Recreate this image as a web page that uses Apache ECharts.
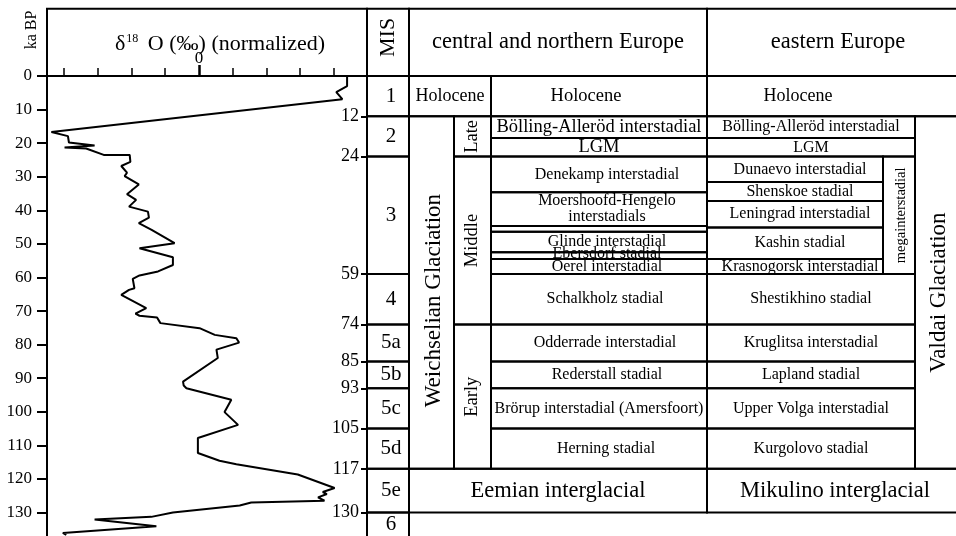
<!DOCTYPE html>
<html>
<head>
<meta charset="utf-8">
<script src="https://cdn.jsdelivr.net/npm/echarts@6/dist/echarts.min.js"></script>
<style>
  html, body { margin: 0; padding: 0; background: #fff; }
  #chart { width: 956px; height: 536px; }
</style>
</head>
<body>
<div id="chart"></div>
<script>
const FONT = '"Liberation Serif", "Times New Roman", serif';
const AGE_MAX = 137;

// normalized δ18O record, listed down the core (value, age in ka BP)
const d18oValues = [
  4.39, 4.39, 4.07, 4.25, -4.37, -3.88, -3.85, -3.09, -3.98, -3.34,
  -2.82, -2.05, -2.03, -2.30, -2.13, -2.20, -1.78, -2.13, -1.86, -2.07,
  -1.51, -1.48, -1.78, -1.40, -0.72, -1.76, -0.77, -0.72, -0.77, -1.21,
  -1.76, -1.96, -1.91, -2.07, -2.30, -1.56, -1.88, -1.76, -1.24, -1.14,
  0.02, 0.47, 1.11, 1.19, 0.52, 0.56, -0.47, -0.45, -0.37, 0.96,
  0.76, 1.16, -0.03, -0.03, 0.61, 1.11, 2.93, 4.02, 3.67, 3.79,
  3.53, 3.72, 1.55, 1.21, -0.77, -1.41, -3.09, -1.26, -4.03, -3.93
];
const d18oAges = [
  0, 3.0, 4.8, 6.9, 16.7, 17.9, 19.8, 20.7, 21.3, 21.6,
  23.5, 23.5, 25.6, 26.8, 28.8, 29.8, 32.3, 35.2, 36.9, 38.9,
  40.4, 42.2, 43.8, 45.8, 49.8, 51.3, 54.0, 54.3, 56.3, 58.2,
  59.4, 60.4, 63.2, 63.7, 65.2, 69.1, 70.8, 71.4, 71.9, 73.6,
  75.1, 77.1, 78.1, 79.4, 81.5, 84.0, 91.0, 92.2, 93.0, 96.4,
  100.1, 103.9, 107.8, 112.3, 114.6, 115.6, 118.7, 122.7, 123.9, 124.5,
  125.5, 126.5, 127.0, 127.9, 130.0, 131.3, 132.1, 134.1, 136.1, 136.7
];
const d18oTicks = [-4, -3, -2, -1, 1, 2, 3, 4];

// marine isotope stages
const misLabels = ['1', '2', '3', '4', '5a', '5b', '5c', '5d', '5e', '6'];
const misBoundaries = [12, 24, 59, 74, 85, 93, 105, 117, 130];

// central and northern Europe: [name, from ka, to ka]
const weichselUnits = [
  ['Holocene', 0, 12],
  ['Weichselian Glaciation', 12, 117],
  ['Eemian interglacial', 117, 130]
];
const weichselParts = [
  ['Late', 12, 24],
  ['Middle', 24, 74],
  ['Early', 74, 117]
];
const centralStages = [
  ['Holocene', 0, 12],
  ['Bölling-Alleröd interstadial', 12, 18.5],
  ['LGM', 18.5, 24],
  ['Denekamp interstadial', 24, 34.6],
  ['Moershoofd-Hengelo\ninterstadials', 34.6, 44.7],
  ['', 44.7, 46.4],
  ['Glinde interstadial', 46.4, 52.5],
  ['Ebersdorf stadial', 52.5, 54.5],
  ['Oerel interstadial', 54.5, 59],
  ['Schalkholz stadial', 59, 74],
  ['Odderrade interstadial', 74, 85],
  ['Rederstall stadial', 85, 93],
  ['Brörup interstadial (Amersfoort)', 93, 105],
  ['Herning stadial', 105, 117]
];

// eastern Europe
const valdaiUnits = [
  ['Holocene', 0, 12],
  ['Valdai Glaciation', 12, 117],
  ['Mikulino interglacial', 117, 130]
];
const megainterstadial = ['megainterstadial', 24, 59];
const easternStages = [
  ['Bölling-Alleröd interstadial', 12, 18.5],
  ['LGM', 18.5, 24],
  ['Dunaevo interstadial', 24, 31.6],
  ['Shenskoe stadial', 31.6, 37.2],
  ['Leningrad interstadial', 37.2, 45.1],
  ['Kashin stadial', 45.1, 54.5],
  ['Krasnogorsk interstadial', 54.5, 59],
  ['Shestikhino stadial', 59, 74],
  ['Kruglitsa interstadial', 74, 85],
  ['Lapland stadial', 85, 93],
  ['Upper Volga interstadial', 93, 105],
  ['Kurgolovo stadial', 105, 117]
];
const headerLabels = ['MIS', 'central and northern Europe', 'eastern Europe'];

// ---- table layout: column extents along the table x axis (1 unit = 1 px) ----
const TABLE_WIDTH = 909;
const COL = {
  plot: [0, 320], mis: [320, 362], glac: [362, 407], sub: [407, 444],
  cen: [444, 660], glacSub: [362, 444], central: [362, 660],
  eastStage: [660, 868], eastNarrow: [660, 836], mega: [836, 868],
  valdai: [868, 930], east: [660, 930]
};
const HEADER_FROM = -20;   // header row sits above the 0 ka line
const TABLE_BOTTOM = 140;  // last MIS row runs off the bottom
// small text nudges (px) for a few cells
const TEXT_NUDGE = {
  'MIS': [0, -5],
  'Weichselian Glaciation': [2, 8],
  'Denekamp interstadial': [8, 0], 'Moershoofd-Hengelo\ninterstadials': [8, 0],
  'Glinde interstadial': [8, 0], 'Ebersdorf stadial': [8, -2], 'Oerel interstadial': [8, 0],
  'Schalkholz stadial': [6, 0], 'Odderrade interstadial': [6, 0],
  'Rederstall stadial': [8, 0], 'Herning stadial': [7, 0],
  'Holocene': [-13, 0]
};

const cells = [];
function addCell(col, from, to, text, fontSize, opts) {
  cells.push(Object.assign({ col, from, to, text, fontSize }, opts || {}));
}

// header row
addCell('plot', HEADER_FROM, 0, '', 0);
addCell('mis', HEADER_FROM, 0, headerLabels[0], 22, { rotate: true, nudge: true });
addCell('central', HEADER_FROM, 0, headerLabels[1], 22.5);
addCell('east', HEADER_FROM, 0, headerLabels[2], 22.5, { textDx: -4 });

// MIS column
const misTops = [0].concat(misBoundaries);
misLabels.forEach((lab, i) => {
  const to = i + 1 < misTops.length ? misTops[i + 1] : TABLE_BOTTOM;
  addCell('mis', misTops[i], to, lab, 21, { openBottom: i === misLabels.length - 1, textDx: 3 });
});

// central and northern Europe
addCell('glacSub', weichselUnits[0][1], weichselUnits[0][2], weichselUnits[0][0], 18);
addCell('glac', weichselUnits[1][1], weichselUnits[1][2], weichselUnits[1][0], 23, { rotate: true, nudge: true });
addCell('central', weichselUnits[2][1], weichselUnits[2][2], weichselUnits[2][0], 22.5);
weichselParts.forEach(p => addCell('sub', p[1], p[2], p[0], 18.5, { rotate: true }));
centralStages.forEach(s => addCell('cen', s[1], s[2], s[0], s[1] < 24 ? 18.5 : 16,
  { lineHeight: 16, nudge: true }));

// eastern Europe
addCell('east', valdaiUnits[0][1], valdaiUnits[0][2], valdaiUnits[0][0], 18, { textCol: 'eastStage', textDx: -13 });
addCell('valdai', valdaiUnits[1][1], valdaiUnits[1][2], valdaiUnits[1][0], 23, { rotate: true, textCol: [868, 916] });
addCell('east', valdaiUnits[2][1], valdaiUnits[2][2], valdaiUnits[2][0], 22.5, { textCol: [660, 916] });
addCell('mega', megainterstadial[1], megainterstadial[2], megainterstadial[0], 14.5, { rotate: true, textDx: 2 });
easternStages.forEach(s => {
  const inMega = s[1] >= megainterstadial[1] && s[2] <= megainterstadial[2];
  addCell(inMega ? 'eastNarrow' : 'eastStage', s[1], s[2], s[0], 16, { textDx: inMega ? 5 : 0 });
});

const tableData = cells.map(c => [COL[c.col][0], c.from, COL[c.col][1], c.to]);

function renderCell(params, api) {
  const c = cells[params.dataIndex];
  const p0 = api.coord([api.value(0), api.value(1)]);
  const p1 = api.coord([api.value(2), api.value(3)]);
  const children = [];
  const stroke = { fill: 'none', stroke: '#000', lineWidth: 2 };
  if (c.openBottom) {
    children.push({ type: 'polyline', shape: { points: [[p0[0], p1[1]], [p0[0], p0[1]], [p1[0], p0[1]], [p1[0], p1[1]]] }, style: stroke });
  } else {
    children.push({ type: 'rect', shape: { x: p0[0], y: p0[1], width: p1[0] - p0[0], height: p1[1] - p0[1] }, style: stroke });
  }
  if (c.text) {
    let cx = (p0[0] + p1[0]) / 2;
    if (c.textCol) {
      const span = Array.isArray(c.textCol) ? c.textCol : COL[c.textCol];
      const t0 = api.coord([span[0], c.from]);
      const t1 = api.coord([span[1], c.from]);
      cx = (t0[0] + t1[0]) / 2;
    }
    let cy = (p0[1] + p1[1]) / 2;
    if (c.openBottom) cy = (p0[1] + api.coord([0, AGE_MAX])[1]) / 2;
    let dx = c.textDx || 0, dy = 0;
    if (c.nudge && TEXT_NUDGE[c.text]) {
      dx += TEXT_NUDGE[c.text][0];
      dy += TEXT_NUDGE[c.text][1];
    }
    children.push({
      type: 'text',
      x: cx + dx, y: cy + dy,
      rotation: c.rotate ? Math.PI / 2 : 0,
      style: {
        text: c.text, fontSize: c.fontSize, fontFamily: FONT, fill: '#000',
        align: 'center', verticalAlign: 'middle', lineHeight: c.lineHeight || c.fontSize * 1.1
      }
    });
  }
  return { type: 'group', children };
}

const chart = echarts.init(document.getElementById('chart'), null, { renderer: 'canvas' });
const axisLineStyle = { color: '#000', width: 2 };

chart.setOption({
  animation: false,
  backgroundColor: '#fff',
  title: {
    text: 'δ{sup|18} O (‰) (normalized)',
    left: 110, top: 28,
    textStyle: {
      fontFamily: FONT, fontSize: 22, fontWeight: 'normal', color: '#000',
      rich: { sup: { fontFamily: FONT, fontSize: 12, verticalAlign: 'top', padding: [0, 4, 8, 1] } }
    }
  },
  graphic: [{
    type: 'text', x: 32, y: 30, rotation: Math.PI / 2,
    style: { text: 'ka BP', fontSize: 16, fontFamily: FONT, fill: '#000', align: 'center', verticalAlign: 'middle' }
  }],
  grid: [
    { left: 47, top: 76, width: 320, height: 460 },
    { left: 47, top: 76, width: TABLE_WIDTH, height: 460 }
  ],
  xAxis: [
    {
      gridIndex: 0, type: 'value', position: 'top', min: -4.5, max: 4.98,
      axisLine: { show: true, onZero: false, lineStyle: axisLineStyle },
      axisTick: { show: true, customValues: d18oTicks, length: 8, lineStyle: { color: '#000', width: 1.5 } },
      axisLabel: { show: false }, splitLine: { show: false }
    },
    {
      gridIndex: 0, type: 'value', position: 'top', min: -4.5, max: 4.98,
      axisLine: { show: false, onZero: false },
      axisTick: { show: true, customValues: [0], length: 11, lineStyle: { color: '#000', width: 2.5 } },
      axisLabel: { show: true, customValues: [0], margin: 9, fontSize: 17, fontFamily: FONT, color: '#000' },
      splitLine: { show: false }
    },
    { gridIndex: 1, type: 'value', min: 0, max: TABLE_WIDTH, show: false }
  ],
  yAxis: [
    {
      gridIndex: 0, type: 'value', min: 0, max: AGE_MAX, interval: 10, inverse: true,
      axisLine: { show: true, onZero: false, lineStyle: axisLineStyle },
      axisTick: { show: true, length: 10, lineStyle: { color: '#000', width: 2 } },
      axisLabel: { margin: 15, fontSize: 17, fontFamily: FONT, color: '#000', showMaxLabel: false },
      splitLine: { show: false }
    },
    {
      gridIndex: 0, type: 'value', position: 'right', min: 0, max: AGE_MAX, inverse: true,
      axisLine: { show: true, onZero: false, lineStyle: axisLineStyle },
      axisTick: { show: true, inside: true, customValues: misBoundaries, length: 6, lineStyle: { color: '#000', width: 2 } },
      axisLabel: { show: true, inside: true, customValues: misBoundaries, margin: 8, fontSize: 18, fontFamily: FONT, color: '#000' },
      splitLine: { show: false }
    },
    { gridIndex: 1, type: 'value', min: 0, max: AGE_MAX, inverse: true, show: false }
  ],
  series: [
    {
      type: 'custom', name: 'stratigraphy', xAxisIndex: 2, yAxisIndex: 2,
      coordinateSystem: 'cartesian2d', clip: false, silent: true,
      renderItem: renderCell,
      encode: { x: [0, 2], y: [1, 3] },
      data: tableData
    },
    {
      type: 'line', name: 'δ18O', xAxisIndex: 0, yAxisIndex: 0,
      data: d18oAges.map((a, i) => [d18oValues[i], a]),
      showSymbol: false, clip: true,
      lineStyle: { color: '#000', width: 2 },
      z: 3
    }
  ]
});
</script>
</body>
</html>
